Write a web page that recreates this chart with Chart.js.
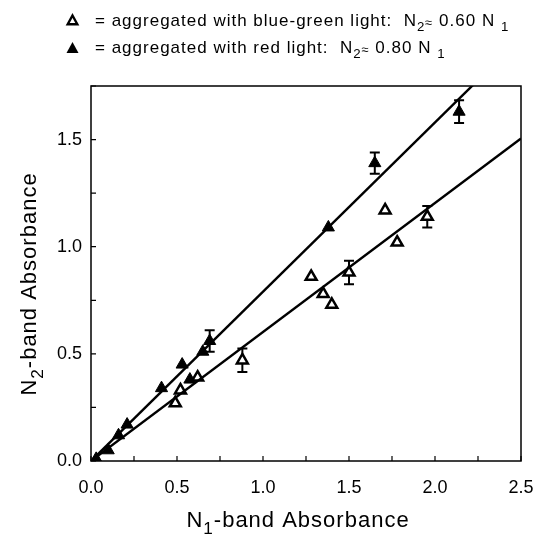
<!DOCTYPE html>
<html>
<head>
<meta charset="utf-8">
<script src="https://cdn.jsdelivr.net/npm/chart.js@4.4.1/dist/chart.umd.min.js"></script>
<style>
  html, body { margin: 0; padding: 0; background: #fff; }
  #wrap { width: 535px; height: 537px; }
</style>
</head>
<body>
<div id="wrap"><canvas id="chart" width="535" height="537"></canvas></div>
<script>
// aggregated with blue-green light (open triangles)
const blueX = [0.49, 0.52, 0.62, 0.88, 1.28, 1.35, 1.40, 1.50, 1.71, 1.78, 1.955];
const blueY = [0.27, 0.33, 0.39, 0.47, 0.86, 0.78, 0.73, 0.88, 1.17, 1.02, 1.14];
const blueErr = [0, 0, 0, 0.055, 0, 0, 0, 0.055, 0, 0, 0.05];

// aggregated with red light (filled triangles)
const redX = [0.03, 0.10, 0.16, 0.21, 0.41, 0.53, 0.575, 0.65, 0.69, 1.38, 1.65, 2.14];
const redY = [0.01, 0.05, 0.12, 0.17, 0.34, 0.45, 0.38, 0.51, 0.56, 1.09, 1.39, 1.63];
const redErr = [0, 0, 0, 0, 0, 0, 0, 0, 0.05, 0, 0.05, 0.053];

// fitted lines through the origin (end points)
const fitX = [0, 2.5];
const blueFitY = [0, 1.505];
const redFitY = [0, 1.975];

// labelled ticks (minor marks every 0.25)
const xLabels = [0, 0.5, 1.0, 1.5, 2.0, 2.5];
const yLabels = [0, 0.5, 1.0, 1.5];

const FONT = '"Liberation Sans", Arial, Helvetica, sans-serif';

function pts(xs, ys) {
    return xs.map((x, i) => ({ x: x, y: ys[i] }));
}

// draw text made of parts, some as subscripts
function drawRich(ctx, parts, x, y, size) {
    let cx = x;
    parts.forEach(p => {
        let s = size, dy = 0;
        if (p.sub) { s = size * 0.78; dy = size * 0.3; }
        if (p.small) { s = size * 0.75; dy = size * 0.05; }
        ctx.font = s + 'px ' + FONT;
        ctx.fillText(p.t, cx, y + dy);
        cx += ctx.measureText(p.t).width;
    });
    return cx;
}

function richWidth(ctx, parts, size) {
    let w = 0;
    parts.forEach(p => {
        let s = size;
        if (p.sub) s = size * 0.78;
        if (p.small) s = size * 0.75;
        ctx.font = s + 'px ' + FONT;
        w += ctx.measureText(p.t).width;
    });
    return w;
}

const decor = {
    id: 'decor',
    beforeDatasetsDraw(chart) {
        // error bars
        const ctx = chart.ctx;
        const xs = chart.scales.x, ys = chart.scales.y;
        ctx.save();
        ctx.strokeStyle = '#000';
        ctx.lineWidth = 2;
        [[blueX, blueY, blueErr], [redX, redY, redErr]].forEach(set => {
            set[0].forEach((x, i) => {
                const e = set[2][i];
                if (!e) return;
                const px = xs.getPixelForValue(x);
                const top = ys.getPixelForValue(set[1][i] + e);
                const bot = ys.getPixelForValue(set[1][i] - e);
                ctx.beginPath();
                ctx.moveTo(px, top); ctx.lineTo(px, bot);
                ctx.moveTo(px - 5, top); ctx.lineTo(px + 5, top);
                ctx.moveTo(px - 5, bot); ctx.lineTo(px + 5, bot);
                ctx.stroke();
            });
        });
        ctx.restore();
    },
    afterDraw(chart) {
        const ctx = chart.ctx;
        const a = chart.chartArea;
        const xs = chart.scales.x, ys = chart.scales.y;
        ctx.save();
        // frame
        ctx.strokeStyle = '#000';
        ctx.lineWidth = 1.5;
        ctx.strokeRect(a.left, a.top, a.right - a.left, a.bottom - a.top);
        // inward tick marks
        ctx.lineWidth = 1.2;
        ctx.beginPath();
        xs.ticks.forEach(t => {
            const px = xs.getPixelForValue(t.value);
            ctx.moveTo(px, a.bottom); ctx.lineTo(px, a.bottom - 5);
        });
        ys.ticks.forEach(t => {
            const py = ys.getPixelForValue(t.value);
            ctx.moveTo(a.left, py); ctx.lineTo(a.left + 5, py);
        });
        ctx.stroke();

        ctx.fillStyle = '#000';
        ctx.textBaseline = 'alphabetic';
        ctx.textAlign = 'left';
        ctx.letterSpacing = '1px';

        // legend symbols
        ctx.strokeStyle = '#000';
        ctx.lineWidth = 2.4;
        ctx.beginPath();
        ctx.moveTo(72.5, 15.5); ctx.lineTo(77.3, 24.2); ctx.lineTo(67.7, 24.2); ctx.closePath();
        ctx.fillStyle = '#fff'; ctx.fill(); ctx.stroke();
        ctx.beginPath();
        ctx.moveTo(72.5, 42); ctx.lineTo(78.5, 53); ctx.lineTo(66.5, 53); ctx.closePath();
        ctx.fillStyle = '#000'; ctx.fill();

        drawRich(ctx, [
            { t: '= aggregated with blue-green light:  N' }, { t: '2', sub: true },
            { t: '\u2248', small: true }, { t: ' 0.60 N ' }, { t: '1', sub: true }
        ], 95, 26, 17);
        drawRich(ctx, [
            { t: '= aggregated with red light:  N' }, { t: '2', sub: true },
            { t: '\u2248', small: true }, { t: ' 0.80 N ' }, { t: '1', sub: true }
        ], 95, 53, 17);

        // axis titles
        const xt = [{ t: 'N' }, { t: '1', sub: true }, { t: '-band Absorbance' }];
        const xw = richWidth(ctx, xt, 22);
        drawRich(ctx, xt, 298 - xw / 2, 527, 22);

        const yt = [{ t: 'N' }, { t: '2', sub: true }, { t: '-band Absorbance' }];
        const yw = richWidth(ctx, yt, 22);
        ctx.translate(36, 284);
        ctx.rotate(-Math.PI / 2);
        drawRich(ctx, yt, -yw / 2, 0, 22);
        ctx.restore();
    }
};

const tickLabel = v => xLabels.concat(yLabels).some(l => Math.abs(l - v) < 1e-6) ? v.toFixed(1) : '';

new Chart(document.getElementById('chart'), {
    type: 'scatter',
    data: {
        datasets: [
            {
                label: 'blue-green fit',
                type: 'line',
                data: pts(fitX, blueFitY),
                borderColor: '#000',
                borderWidth: 2.4,
                pointRadius: 0,
                fill: false
            },
            {
                label: 'red fit',
                type: 'line',
                data: pts(fitX, redFitY),
                borderColor: '#000',
                borderWidth: 2.4,
                pointRadius: 0,
                fill: false
            },
            {
                label: 'blue-green light',
                data: pts(blueX, blueY),
                pointStyle: 'triangle',
                pointRadius: 6.3,
                borderWidth: 2.5,
                borderColor: '#000',
                backgroundColor: '#fff'
            },
            {
                label: 'red light',
                data: pts(redX, redY),
                pointStyle: 'triangle',
                pointRadius: 7,
                borderWidth: 1,
                borderColor: '#000',
                backgroundColor: '#000'
            }
        ]
    },
    options: {
        responsive: false,
        animation: false,
        layout: { padding: { top: 86, right: 14, left: 0, bottom: 0 } },
        plugins: {
            legend: { display: false },
            tooltip: { enabled: false }
        },
        scales: {
            x: {
                type: 'linear',
                min: 0,
                max: 2.5,
                grid: { display: false, drawTicks: false },
                border: { display: false },
                ticks: {
                    stepSize: 0.25,
                    autoSkip: false,
                    maxRotation: 0,
                    padding: 16,
                    color: '#000',
                    font: { family: FONT, size: 18 },
                    callback: tickLabel
                },
                afterFit: s => {
                    s.height = 76;
                    s.paddingLeft = 0;
                    s.paddingRight = 0;
                }
            },
            y: {
                type: 'linear',
                min: 0,
                max: 1.75,
                grid: { display: false, drawTicks: false },
                border: { display: false },
                ticks: {
                    stepSize: 0.25,
                    autoSkip: false,
                    padding: 9,
                    color: '#000',
                    font: { family: FONT, size: 18 },
                    callback: tickLabel
                },
                afterFit: s => {
                    s.width = 91;
                    s.paddingTop = 0;
                    s.paddingBottom = 0;
                }
            }
        }
    },
    plugins: [decor]
});
</script>
</body>
</html>
